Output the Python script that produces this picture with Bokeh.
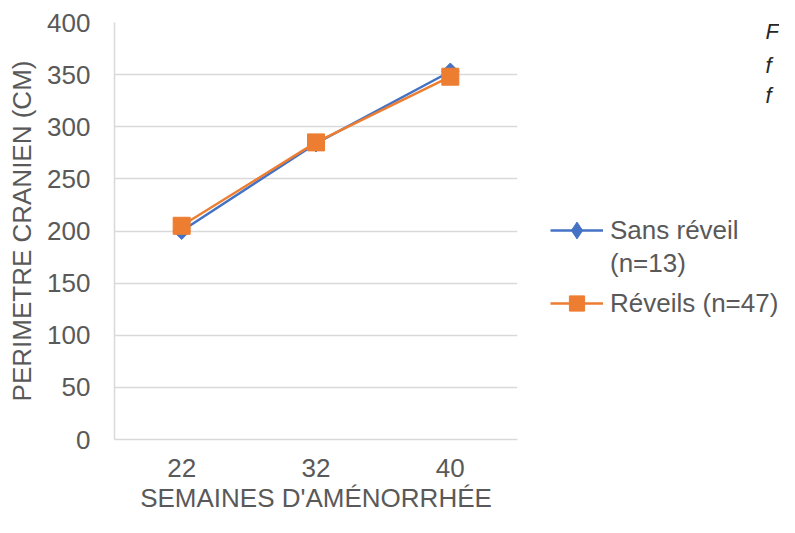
import numpy as np
from bokeh.plotting import figure
from bokeh.layouts import row
from bokeh.models import FactorRange, Range1d, FixedTicker, Legend, LegendItem, Label
from bokeh.embed import file_html
from bokeh.resources import INLINE

weeks = ["22", "32", "40"]
sans_reveil = [200, 284, 353]
reveils = [205, 285, 348]
y_ticks = [0, 50, 100, 150, 200, 250, 300, 350, 400]
series_labels = ["Sans réveil", "(n=13)", "Réveils (n=47)"]
x_title = "SEMAINES D'AMÉNORRHÉE"
y_title = "PERIMETRE CRANIEN (CM)"
side_text = ["F", "f", "f"]

TEXT = "#595959"
GRID = "#d9d9d9"
BLUE = "#4472C4"
ORANGE = "#ED7D31"
FONT = "Liberation Sans"

W1, H = 527, 517
p = figure(width=W1, height=H, x_range=FactorRange(*weeks), y_range=Range1d(0, 400),
           output_backend="svg", toolbar_location=None, title=None,
           min_border_left=114, min_border_right=10, min_border_top=22, min_border_bottom=78)
p.outline_line_color = None
p.background_fill_color = "white"
p.border_fill_color = "white"

p.xgrid.grid_line_color = None
p.ygrid.grid_line_color = GRID
p.ygrid.grid_line_width = 1.3
p.yaxis.ticker = FixedTicker(ticks=y_ticks)
p.yaxis.axis_label = y_title
p.xaxis.axis_label = x_title
for ax in (p.xaxis[0], p.yaxis[0]):
    ax.axis_line_color = GRID
    ax.axis_line_width = 1.5
    ax.major_tick_line_color = None
    ax.minor_tick_line_color = None
    ax.major_tick_in = 0
    ax.major_tick_out = 0
    ax.major_label_text_font = FONT
    ax.major_label_text_font_size = "26px"
    ax.major_label_text_color = TEXT
    ax.axis_label_text_font = FONT
    ax.axis_label_text_font_size = "26px"
    ax.axis_label_text_color = TEXT
    ax.axis_label_text_font_style = "normal"
p.yaxis.major_label_standoff = 24
p.xaxis.major_label_standoff = 19
p.yaxis.axis_label_standoff = 7
p.xaxis.axis_label_standoff = 3

p.line(weeks, sans_reveil, line_color=BLUE, line_width=2.5)
p.scatter(weeks, sans_reveil, marker="square", angle=np.pi / 4, size=12,
          fill_color=BLUE, line_color=BLUE)
p.line(weeks, reveils, line_color=ORANGE, line_width=2.5)
p.scatter(weeks, reveils, marker="square", size=17, fill_color=ORANGE, line_color=ORANGE)

# side panel holding the legend (legend proxies carry no visible data)
q = figure(width=779 - W1, height=H, x_range=Range1d(0, 1), y_range=Range1d(0, 1),
           output_backend="svg", toolbar_location=None, title=None,
           x_axis_location=None, y_axis_location=None,
           min_border_left=0, min_border_right=0, min_border_top=0, min_border_bottom=0)
q.grid.visible = False
q.outline_line_color = None
q.border_fill_color = "white"
q.background_fill_color = "white"

nan = np.array([np.nan])
ql1 = q.line(x=nan, y=nan, line_color=BLUE, line_width=2.5)
qm1 = q.scatter(x=nan, y=nan, marker="diamond", size=12, fill_color=BLUE, line_color=BLUE)
qd = q.line(x=nan, y=nan, line_alpha=0)
ql2 = q.line(x=nan, y=nan, line_color=ORANGE, line_width=2.5)
qm2 = q.scatter(x=nan, y=nan, marker="square", size=17, fill_color=ORANGE, line_color=ORANGE)

def make_legend(label, renderers, loc, gh):
    lg = Legend(items=[LegendItem(label=label, renderers=renderers)], location=loc,
                padding=0, margin=0, spacing=0,
                border_line_color=None, background_fill_alpha=0,
                glyph_width=53, glyph_height=gh, label_height=gh, label_standoff=7,
                label_text_font=FONT, label_text_font_size="26px", label_text_color=TEXT)
    q.add_layout(lg)

make_legend(series_labels[0], [ql1, qm1], (23, 188), 42)
make_legend(series_labels[1], [qd], (23, 158), 36)
make_legend(series_labels[2], [ql2, qm2], (23, 117), 38)

for t, yy in zip(side_text, [408, 374, 344]):
    q.add_layout(Label(x=238, y=yy, x_units="screen", y_units="screen", text=t,
                       text_font=FONT, text_font_style="italic", text_font_size="22px",
                       text_color="#262626", text_baseline="middle"))

layout = row(p, q)
open("out.html", "w").write(file_html(layout, INLINE))
